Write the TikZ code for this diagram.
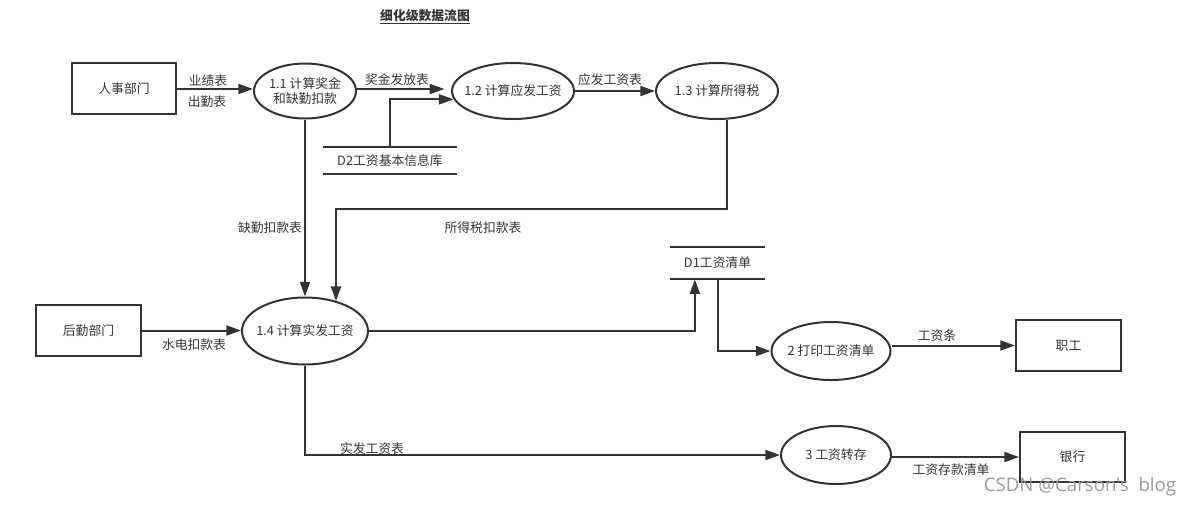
\documentclass[tikz,border=0pt]{standalone}
\usepackage{fontspec}
\setmainfont{Noto Sans CJK SC}
\newfontfamily\wmfont{Open Sans}
\usetikzlibrary{shapes.geometric,arrows.meta,calc}
\definecolor{ink}{HTML}{333333}
\begin{document}
\begin{tikzpicture}[x=0.75pt,y=-0.75pt,
  every node/.style={font=\fontsize{9.6pt}{11pt}\selectfont,text=ink},
  proc/.style={draw=ink,line width=1.5pt,ellipse,inner sep=0pt},
  ent/.style={draw=ink,line width=1.5pt,rectangle,inner sep=0pt,minimum width=78.75pt,minimum height=38.25pt},
  store/.style={inner sep=0pt},
  lbl/.style={inner sep=1pt},
  flow/.style={draw=ink,line width=1.5pt,-{Triangle[length=11pt,width=7.5pt]}},
  bar/.style={draw=ink,line width=1.5pt}]
\useasboundingbox (0,0) rectangle (1195,508);
% title
\node[font=\fontsize{9.6pt}{11pt}\selectfont\bfseries] (title) at (425,17) {\underline{细化级数据流图}};
% entities
\node[ent,minimum width=78pt] (hr) at (124,88.5) {人事部门};
\node[ent] (hq) at (88.5,330.5) {后勤部门};
\node[ent] (zg) at (1068.5,345.5) {职工};
\node[ent,minimum height=37.5pt] (yh) at (1072.5,457) {银行};
% processes
\node[proc,minimum width=76.5pt,minimum height=41.25pt,label={[align=center,inner sep=0pt]center:1.1 计算奖金\\和缺勤扣款}] (p11) at (305,91) {};
\node[proc,minimum width=91.5pt,minimum height=42pt,label={[inner sep=0pt]center:1.2 计算应发工资}] (p12) at (513,91) {};
\node[proc,minimum width=91.5pt,minimum height=42pt,label={[inner sep=0pt]center:1.3 计算所得税}] (p13) at (717,91) {};
\node[proc,minimum width=94.5pt,minimum height=50.25pt,label={[inner sep=0pt]center:1.4 计算实发工资}] (p14) at (305,331) {};
\node[proc,minimum width=89.25pt,minimum height=43.5pt,label={[inner sep=0pt]center:2 打印工资清单}] (p2) at (831,351) {};
\node[proc,minimum width=82.5pt,minimum height=43.5pt,label={[inner sep=0pt]center:3 工资转存}] (p3) at (836,455) {};
% data stores
\node[store,minimum width=100.5pt,minimum height=20.25pt] (d2) at (390,160.5) {D2工资基本信息库};
\draw[bar] (d2.north west) -- (d2.north east) (d2.south west) -- (d2.south east);
\node[store,minimum width=71.25pt,minimum height=24pt] (d1) at (717.5,263) {D1工资清单};
\draw[bar] (d1.north west) -- (d1.north east) (d1.south west) -- (d1.south east);
% flows
\draw[flow] (hr.east |- 0,89) -- (p11.west |- 0,89);
\draw[flow] (p11.east |- 0,89) -- ([xshift=-5pt]p12.west |- 0,89);
\draw[flow] (d2.north) |- (p12.188);
\draw[flow] (p12.east) -- (p13.west);
\coordinate (tx) at (336,209);
\draw[flow] ([xshift=7.5pt]p13.south) |- (tx) -- (tx |- p14.43);
\draw[flow] (p11.south) -- (p14.north);
\draw[flow] (hq.east) -- (hq.east -| p14.west);
\draw[flow] (p14.east) -| ([xshift=-17pt]d1.south);
\draw[flow] (d1.south) |- (p2.west);
\draw[flow] (p2.east |- zg.west) -- (zg.west);
\draw[flow] (p14.south) |- (p3.west);
\draw[flow] (p3.east |- yh.west) -- (yh.west);
% labels
\node[lbl] (l1) at (208,81) {业绩表};
\node[lbl] (l2) at (207,102) {出勤表};
\node[lbl] (l3) at (397,80) {奖金发放表};
\node[lbl] (l4) at (610,80) {应发工资表};
\node[lbl] (l5) at (270,228) {缺勤扣款表};
\node[lbl] (l6) at (483,228) {所得税扣款表};
\node[lbl] (l7) at (194,345) {水电扣款表};
\node[lbl] (l8) at (937,336) {工资条};
\node[lbl] (l9) at (372,449) {实发工资表};
\node[lbl] (l10) at (951,470) {工资存款清单};
% watermark
\node[font=\wmfont\fontsize{14pt}{16pt}\selectfont,text=black!40] (wm) at (1080,487) {CSDN @Carson's\ \ blog};
\end{tikzpicture}
\end{document}
